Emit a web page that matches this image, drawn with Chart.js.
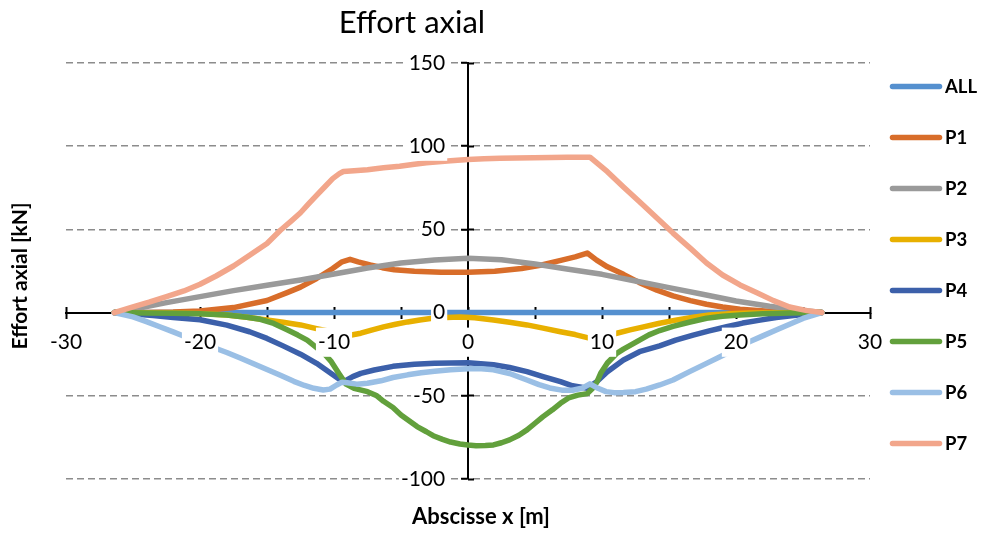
<!DOCTYPE html>
<html>
<head>
<meta charset="utf-8">
<title>Effort axial</title>
<script src="https://cdn.jsdelivr.net/npm/chart.js@4.4.1/dist/chart.umd.min.js"></script>
<style>
  html, body { margin: 0; padding: 0; background: #ffffff; }
  #chart { display: block; }
</style>
</head>
<body>
<canvas id="chart" width="984" height="533"></canvas>
<script>
// ---- Texts ----
const chartTitle = 'Effort axial';
const xAxisTitle = 'Abscisse x [m]';
const yAxisTitle = 'Effort axial [kN]';

// ---- Axis ranges and tick steps ----
const xRange = [-30, 30];
const xLabelStep = 10;
const xMinorStep = 5;
const yRange = [-100, 150];
const yLabelStep = 50;

// ---- Series (abscissa in m, axial force in kN) ----
const seriesNames = ['ALL', 'P1', 'P2', 'P3', 'P4', 'P5', 'P6', 'P7'];
const seriesColors = ['#5590cf', '#d86d2a', '#9a9a9a', '#e8b000', '#3c60aa', '#62a03c', '#9abfe5', '#f2a68b'];

const allX = [-26.4, 26.4];
const allY = [0, 0];

const p1X = [-26.4, -24, -22, -20, -17.5, -15, -13.5, -12.5, -11.3, -10.1, -9.4, -8.8, -8.2, -7.3, -6.4, -5.5, -4, -2, 0, 2, 4, 5.5, 7, 8, 8.9, 9.6, 10.4, 11.6, 12.8, 14.1, 15.3, 16.6, 17.8, 19, 20.3, 21.6, 22.8, 24.5, 26.4];
const p1Y = [0, 0.1, 0.3, 0.9, 3, 7.3, 12, 15.3, 20.5, 26.5, 30.5, 32, 30.5, 28.6, 27, 25.8, 24.8, 24.3, 24.3, 24.8, 26.5, 28.6, 31.5, 33.5, 35.8, 31.5, 27.5, 23, 18, 13.5, 10, 7.2, 5, 3.4, 2, 1.3, 0.6, 0.2, 0];

const p2X = [-26.4, -25, -22.5, -20, -17.5, -15, -12.5, -10, -7.5, -5, -2.5, 0, 2.5, 5, 7.5, 10, 12.5, 15, 17.5, 20, 22.5, 25, 26.4];
const p2Y = [0, 2, 6, 9.6, 13.2, 16.4, 19.6, 23.2, 26.8, 29.8, 31.6, 32.6, 31.8, 29.2, 26, 23, 19, 15, 11, 7, 3.8, 1.2, 0];

const p3X = [-26.4, -24, -22, -20, -18, -16.5, -15, -13.8, -12.5, -11.3, -10, -8.9, -8, -7.2, -6.3, -5.4, -4.5, -3.6, -2.8, -1.6, -0.6, 0.5, 1.9, 3.1, 4.4, 5.6, 6.9, 8, 9.2, 10.1, 11.1, 12.1, 13.1, 14.3, 15.6, 16.8, 18, 19.5, 21, 23, 26.4];
const p3Y = [0, -0.1, -0.3, -0.6, -1.4, -2.8, -4.4, -5.8, -7.4, -9.6, -11.8, -13.8, -12.4, -10.5, -8.6, -7, -5.6, -4.4, -3.6, -2.9, -2.7, -3.1, -4.5, -5.8, -7.4, -9.3, -11.5, -13.2, -15.6, -14.4, -12.4, -10.4, -8.6, -6.4, -4.4, -2.8, -1.5, -0.7, -0.3, -0.1, 0];

const p4X = [-26.4, -25, -23.5, -22, -20, -18, -16.3, -15, -13.8, -12.5, -11.3, -10.4, -9.6, -9.2, -8.6, -8, -7, -5.6, -4, -2.5, 0, 1.9, 3.1, 4.4, 5.6, 6.9, 7.8, 8.9, 9.6, 10.4, 11.6, 12.8, 14.3, 15.5, 16.8, 18, 19.3, 20.5, 21.8, 23, 24.3, 25.5, 26.4];
const p4Y = [0, -0.8, -1.8, -2.9, -4.3, -7.5, -11.5, -15.5, -20, -25, -30.5, -35.5, -40, -41.2, -38.5, -36.5, -34.5, -32.3, -31, -30.4, -30.2, -31.3, -33, -35.5, -38.5, -41.5, -44, -45.5, -41.5, -35.5, -28.5, -23.5, -20, -16.5, -13.5, -11, -8.5, -6.3, -4.5, -3, -1.8, -0.7, 0];

const p5X = [-26.4, -24, -22, -20, -18, -16.5, -15.5, -14.5, -13.5, -12.7, -12, -11.3, -10.7, -10.2, -9.6, -9.1, -8.5, -7.5, -6.8, -6.3, -5.6, -5, -4.4, -3.8, -3.1, -2.6, -1.9, -1.3, -0.6, 0, 0.6, 1.3, 1.9, 2.5, 3.1, 3.8, 4.4, 5, 5.6, 6.3, 6.9, 7.5, 8.2, 8.9, 9.3, 9.6, 9.9, 10.4, 11.1, 11.6, 12.2, 12.8, 13.5, 14.3, 15.3, 16.5, 17.8, 19, 20.3, 22, 24, 26.4];
const p5Y = [0, -0.2, -0.4, -0.7, -1.5, -2.8, -4, -6.5, -10.3, -13.5, -16.5, -21, -25, -29.5, -37, -43, -45.5, -47.5, -50, -53.3, -57, -61.5, -65, -68.5, -71.6, -74, -76.2, -77.8, -79, -79.6, -80, -79.9, -79.5, -78.2, -76.5, -73.7, -70.5, -66.5, -62.5, -58.4, -54.5, -51.3, -49.6, -48.7, -45.5, -42, -36.5, -30.3, -24.5, -22, -19.3, -16.5, -13.4, -10.8, -8.3, -5.8, -3.4, -2.2, -1.4, -0.7, -0.2, 0];

const p6X = [-26.4, -25, -24, -23, -22, -21, -20, -19, -18, -17, -16, -15, -14, -13, -12.2, -11.5, -10.8, -10.3, -9.8, -9.4, -9, -8.3, -7.5, -6.5, -5.6, -4.5, -3.5, -2.5, -1.3, 0, 1, 1.9, 3.1, 4.4, 5.3, 6.1, 7, 7.8, 8.5, 9.1, 9.7, 10.3, 10.9, 11.6, 12.5, 13.3, 14.3, 15.3, 16.5, 17.8, 19, 20, 21, 22, 23, 24, 25, 26.4];
const p6Y = [0, -2.6, -5.4, -8.5, -11.6, -14.8, -18, -21, -24, -27.3, -30.8, -34.2, -37.7, -41.3, -43.8, -45.5, -46.5, -46, -43.5, -41.8, -42.2, -43, -42.5, -41, -39, -37.4, -36.2, -35.3, -34.4, -33.7, -33.8, -34.4, -36.6, -40.5, -43.3, -45.3, -46.6, -46.7, -45.5, -42.8, -45.5, -47.5, -48.1, -48, -47.5, -46, -43.5, -40.5, -35.6, -30.5, -25.8, -21.8, -17.5, -14, -10.4, -7, -3.5, 0];

const p7X = [-26.4, -25, -23.8, -22.5, -21.2, -20, -18.8, -17.5, -16.3, -15, -14, -13.2, -12.5, -11.9, -11.3, -10.7, -10.1, -9.6, -9.3, -8.5, -7.5, -6.3, -5.1, -4, -3.1, -2.2, -1.3, 0, 1.2, 2.4, 3.6, 4.9, 6.2, 7.4, 9.1, 10.4, 11.6, 12.8, 14.1, 15.3, 16.6, 17.8, 19, 20.3, 21.6, 22.8, 24, 25.3, 26.4];
const p7Y = [0, 3.5, 6.3, 9.6, 13, 17, 22, 28, 34.5, 41.5, 49.5, 55, 60, 65.3, 70.5, 75.5, 80.5, 83.5, 84.8, 85.2, 85.8, 87, 88, 89.2, 90, 90.6, 91.2, 92, 92.4, 92.7, 92.9, 93, 93.2, 93.3, 93.4, 84.7, 75.5, 66.6, 56.8, 47.8, 38.6, 29.8, 22.6, 16.6, 11.8, 7.2, 3.4, 1.2, 0];

const seriesX = [allX, p1X, p2X, p3X, p4X, p5X, p6X, p7X];
const seriesY = [allY, p1Y, p2Y, p3Y, p4Y, p5Y, p6Y, p7Y];

// ---- Styling ----
const fontFamily = 'Lato, "Open Sans", sans-serif';
const tickFont = { family: fontFamily, size: 21 };
const lineWidth = 5.5;

const toPoints = (xs, ys) => xs.map((x, i) => ({ x, y: ys[i] }));

const datasets = seriesNames.map((name, i) => ({
  label: name,
  data: toPoints(seriesX[i], seriesY[i]),
  borderColor: seriesColors[i],
  backgroundColor: seriesColors[i],
  borderWidth: lineWidth,
  borderCapStyle: 'round',
  borderJoinStyle: 'round',
  pointRadius: 0,
  tension: 0,
  fill: false,
  xAxisID: 'x',
  yAxisID: 'y',
  // later series are painted over earlier ones
  order: seriesNames.length - i
}));

// Chart title and axis titles
const captions = {
  id: 'captions',
  afterDraw(chart) {
    const ctx = chart.ctx;
    ctx.save();
    ctx.fillStyle = '#000';
    ctx.textAlign = 'center';
    ctx.textBaseline = 'alphabetic';
    ctx.font = '31px ' + fontFamily;
    ctx.fillText(chartTitle, 412, 33);
    ctx.font = 'bold 22px ' + fontFamily;
    ctx.fillText(xAxisTitle, 481, 524);
    ctx.font = 'bold 21px ' + fontFamily;
    ctx.translate(27, 276);
    ctx.rotate(-Math.PI / 2);
    ctx.fillText(yAxisTitle, 0, 0);
    ctx.restore();
  }
};

// Legend column on the right side
const sideLegend = {
  id: 'sideLegend',
  afterDraw(chart) {
    const ctx = chart.ctx;
    ctx.save();
    ctx.font = 'bold 18.5px ' + fontFamily;
    ctx.textAlign = 'left';
    ctx.textBaseline = 'middle';
    chart.data.datasets.forEach((ds, i) => {
      const y = 86.5 + i * 51;
      ctx.strokeStyle = ds.borderColor;
      ctx.lineWidth = lineWidth;
      ctx.lineCap = 'round';
      ctx.beginPath();
      ctx.moveTo(892.5, y);
      ctx.lineTo(939.5, y);
      ctx.stroke();
      ctx.fillStyle = '#000';
      ctx.fillText(ds.label, 945, y + 1);
    });
    ctx.restore();
  }
};

const labelTicks = (step, padding) => ({
  stepSize: step,
  autoSkip: false,
  maxRotation: 0,
  padding: padding,
  font: tickFont,
  color: '#000',
  showLabelBackdrop: true,
  backdropColor: '#ffffff',
  backdropPadding: 2,
  z: 1
});

new Chart(document.getElementById('chart'), {
  type: 'line',
  data: { datasets },
  plugins: [captions, sideLegend],
  options: {
    responsive: false,
    animation: false,
    devicePixelRatio: 1,
    layout: { padding: { left: 66, right: 114, top: 63, bottom: 54 } },
    plugins: {
      legend: { display: false },
      title: { display: false },
      tooltip: { enabled: false }
    },
    scales: {
      // horizontal axis line with upward tick marks
      x: {
        type: 'linear', axis: 'x', min: xRange[0], max: xRange[1], position: { y: 0 },
        ticks: { display: false, stepSize: xMinorStep },
        grid: { display: true, drawOnChartArea: false, drawTicks: true, tickLength: -7, tickColor: '#000', tickWidth: 2 },
        border: { display: true, color: '#000', width: 2 }
      },
      // downward half of the horizontal tick marks
      xDown: {
        type: 'linear', axis: 'x', min: xRange[0], max: xRange[1], position: { y: 0 },
        ticks: { display: false, stepSize: xMinorStep },
        grid: { display: true, drawOnChartArea: false, drawTicks: true, tickLength: 6, tickColor: '#000', tickWidth: 2 },
        border: { display: false }
      },
      // horizontal tick labels, painted above the curves
      xLab: {
        type: 'linear', axis: 'x', min: xRange[0], max: xRange[1], position: { y: 0 },
        ticks: labelTicks(xLabelStep, 17),
        grid: { display: false, drawTicks: false },
        border: { display: false }
      },
      // vertical axis line, dashed horizontal gridlines, left tick marks
      y: {
        type: 'linear', axis: 'y', min: yRange[0], max: yRange[1], position: { x: 0 },
        ticks: { display: false, stepSize: yLabelStep },
        grid: { display: true, drawOnChartArea: true, color: '#8c8c8c', lineWidth: 1.5, drawTicks: true, tickLength: 6, tickColor: '#000', tickWidth: 2 },
        border: { display: true, color: '#000', width: 2, dash: [7, 4] }
      },
      // right half of the vertical tick marks
      yRight: {
        type: 'linear', axis: 'y', min: yRange[0], max: yRange[1], position: { x: 0 },
        ticks: { display: false, stepSize: yLabelStep },
        grid: { display: true, drawOnChartArea: false, drawTicks: true, tickLength: -6, tickColor: '#000', tickWidth: 2 },
        border: { display: false }
      },
      // vertical tick labels, set slightly left of the axis line
      yLab: {
        type: 'linear', axis: 'y', min: yRange[0], max: yRange[1], position: { x: -1.7 },
        ticks: labelTicks(yLabelStep, 0),
        grid: { display: false, drawTicks: false },
        border: { display: false }
      }
    }
  }
});
</script>
</body>
</html>
